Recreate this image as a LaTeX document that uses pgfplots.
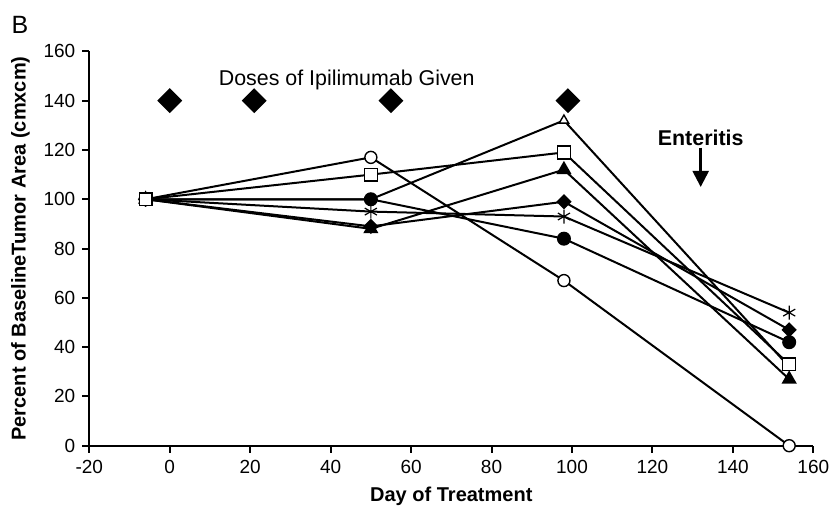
\documentclass[border=0pt]{standalone}
\usepackage{fontspec}
\setmainfont{Liberation Sans}
\usepackage{pgfplots}
\pgfplotsset{compat=1.18}
\usetikzlibrary{arrows.meta}

\begin{document}
\begin{tikzpicture}
\begin{axis}[
  scale only axis, width=362pt, height=197.15pt,
  xmin=-20, xmax=160, ymin=0, ymax=160,
  xtick={-20,0,...,160}, ytick={0,20,...,160},
  axis lines*=left, axis line style={line width=1.1pt},
  tick align=outside, major tick length=3.5pt,
  tick style={line width=1pt, black},
  ticklabel style={font=\fontsize{9.5}{11}\selectfont},
  /pgf/number format/assume math mode=true,
  xlabel={Day of Treatment},
  ylabel={Percent of BaselineTumor Area (cmxcm)},
  label style={font=\fontsize{10}{12}\selectfont\bfseries},
  every axis plot/.append style={line width=1pt, black},
  clip=false,
]
% open triangle (marks hidden at day 50 and 154)
\addplot[mark=triangle*, mark size=2.7pt, mark options={fill=white, line width=0.7pt}]
  coordinates {(-6,100) (50,100) (98,132) (154,32)};
% filled diamond
\addplot[mark=square*, mark size=2.2pt, mark options={rotate=45, fill=black}]
  coordinates {(-6,100) (50,89) (98,99) (154,47)};
% filled triangle
\addplot[mark=triangle*, mark size=3.4pt, mark options={fill=black}]
  coordinates {(-6,100) (50,88) (98,112) (154,27)};
% asterisk
\addplot[mark=asterisk, mark size=3.5pt, mark options={line width=0.6pt}]
  coordinates {(-6,100) (50,95) (98,93) (154,54)};
% filled circle
\addplot[mark=*, mark size=3pt, mark options={fill=black}]
  coordinates {(-6,100) (50,100) (98,84) (154,42)};
% open circle
\addplot[mark=*, mark size=3pt, mark options={fill=white, line width=0.7pt}]
  coordinates {(-6,100) (50,117) (98,67) (154,0)};
% open square
\addplot[mark=square*, mark size=3.2pt, mark options={fill=white, line width=0.7pt}]
  coordinates {(-6,100) (50,110) (98,119) (154,33)};
% doses
\addplot[only marks, mark=square*, mark size=3.9pt, mark options={rotate=45, fill=black}]
  coordinates {(0,140) (21,140) (55,140) (99,140)};

\node[font=\fontsize{10.7}{12}\selectfont] at (axis cs:44,148.4) {Doses of Ipilimumab Given};
\node[font=\fontsize{10.7}{12}\selectfont\bfseries] at (axis cs:132,125) {Enteritis};
\draw[line width=1.2pt, -{Triangle[width=8pt,length=8pt]}] (axis cs:132,121) -- (axis cs:132,105);
\node[font=\fontsize{12.5}{14}\selectfont] at (rel axis cs:-0.0957,1.067) {B};
\end{axis}
\pgfresetboundingbox
\path ([shift={(-44.65pt,-34.15pt)}]current axis.south west) rectangle ([shift={(12.35pt,25.7pt)}]current axis.north east);
\end{tikzpicture}
\end{document}
